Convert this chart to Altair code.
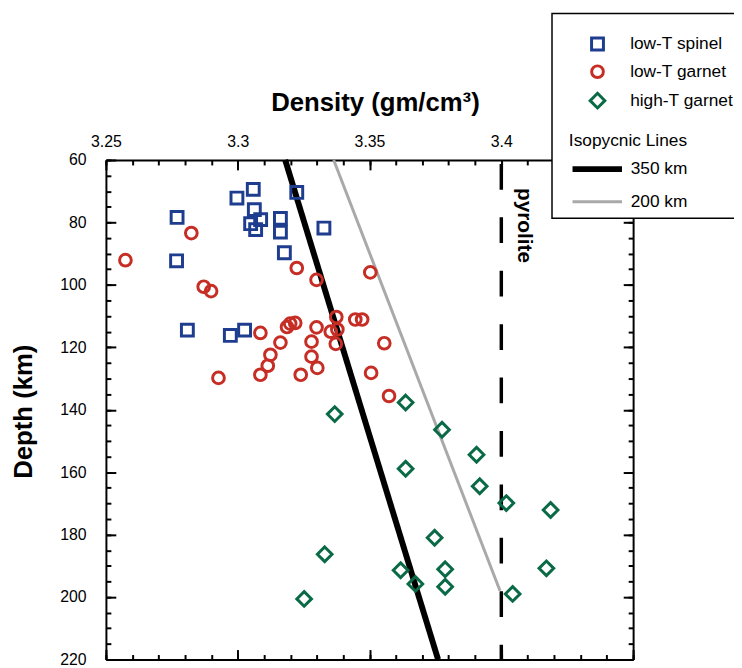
import altair as alt
import pandas as pd

FONT = "Liberation Sans"

# ---------------- data ----------------
groups = ["low-T spinel", "low-T garnet", "high-T garnet"]
group_colors = ["#1f3d8f", "#c62d24", "#0a6a45"]
group_shapes = ["square", "circle", "M0,-1L1,0L0,1L-1,0Z"]
group_sizes = [144, 140, 220]

spinel_density = [3.3059, 3.2997, 3.2770, 3.3063, 3.3049, 3.3087, 3.3068, 3.3162,
                  3.3162, 3.3224, 3.3327, 3.2768, 3.3177, 3.2809, 3.2972, 3.3026]
spinel_depth = [69.4, 72.2, 78.4, 75.9, 80.4, 79.1, 82.3, 78.7,
                83.1, 70.4, 81.8, 92.3, 89.7, 114.5, 116.2, 114.5]

lt_garnet_density = [3.2574, 3.2824, 3.2871, 3.2899, 3.3224, 3.3299, 3.3503,
                     3.3086, 3.3187, 3.3199, 3.3218, 3.3162, 3.3124, 3.3114,
                     3.3086, 3.2927, 3.3239, 3.3299, 3.3280, 3.3280, 3.3302,
                     3.3353, 3.3374, 3.3378, 3.3372, 3.3446, 3.3472, 3.3556,
                     3.3506, 3.3574]
lt_garnet_depth = [92.1, 83.4, 100.6, 102.0, 94.6, 98.4, 96.0,
                   115.4, 113.5, 112.4, 112.2, 118.5, 122.4, 125.9,
                   128.8, 129.8, 128.8, 113.6, 118.2, 123.0, 126.6,
                   115.0, 110.3, 114.3, 118.9, 111.1, 111.1, 118.7,
                   128.2, 135.6]

ht_garnet_density = [3.3637, 3.3368, 3.3775, 3.3906, 3.3637, 3.3918, 3.4019,
                     3.4187, 3.3747, 3.3330, 3.3618, 3.3787, 3.3674, 3.3787,
                     3.4171, 3.4043, 3.3252]
ht_garnet_depth = [137.7, 141.4, 146.4, 154.4, 158.9, 164.5, 169.9,
                   172.1, 181.0, 186.3, 191.4, 191.1, 195.8, 196.7,
                   190.8, 199.0, 200.6]

iso_names = ["350 km", "200 km"]
iso_colors = ["black", "#a9a9a9"]
iso_widths = [6, 3]
iso_350_density = [3.318, 3.376]
iso_350_depth = [60, 220]
iso_200_density = [3.3364, 3.3995]
iso_200_depth = [60, 198]

pyrolite_density = [3.40]
pyrolite_label = ["pyrolite"]
pyrolite_label_depth = [81]

x_domain = [3.25, 3.45]
y_domain = [60, 220]
x_label_values = [3.25, 3.3, 3.35, 3.4]
x_major = [3.25, 3.30, 3.35, 3.40, 3.45]
x_minor = [3.25, 3.26, 3.27, 3.28, 3.29, 3.30, 3.31, 3.32, 3.33, 3.34, 3.35,
           3.36, 3.37, 3.38, 3.39, 3.40, 3.41, 3.42, 3.43, 3.44, 3.45]
y_major = [60, 80, 100, 120, 140, 160, 180, 200, 220]
y_minor = [60, 65, 70, 75, 80, 85, 90, 95, 100, 105, 110, 115, 120, 125, 130,
           135, 140, 145, 150, 155, 160, 165, 170, 175, 180, 185, 190, 195,
           200, 205, 210, 215, 220]

# ---------------- tables ----------------
pts = pd.concat([
    pd.DataFrame({"density": spinel_density, "depth": spinel_depth, "group": groups[0]}),
    pd.DataFrame({"density": lt_garnet_density, "depth": lt_garnet_depth, "group": groups[1]}),
    pd.DataFrame({"density": ht_garnet_density, "depth": ht_garnet_depth, "group": groups[2]}),
], ignore_index=True)

iso = pd.concat([
    pd.DataFrame({"density": iso_350_density, "depth": iso_350_depth, "line": iso_names[0]}),
    pd.DataFrame({"density": iso_200_density, "depth": iso_200_depth, "line": iso_names[1]}),
], ignore_index=True)

pyro = pd.DataFrame({"density": pyrolite_density, "label": pyrolite_label,
                     "depth": pyrolite_label_depth})
frame = pd.DataFrame({"density": x_domain, "depth": y_domain})
box_df = pd.DataFrame({"box": [0]})

W, H = 533, 505
xs = alt.Scale(domain=x_domain, nice=False, zero=False)
ys = alt.Scale(domain=y_domain, nice=False, zero=False, reverse=True)


def tick_axis(orient, offset, values, size, domain=False):
    return alt.Axis(orient=orient, offset=offset, values=values, tickSize=size,
                    tickWidth=2, tickColor="black", labels=False, domain=domain,
                    domainColor="black", domainWidth=2, grid=False, title=None)


axA = alt.Axis(orient="top", values=x_label_values, format="~g", ticks=False, tickSize=0,
               labelPadding=11, labelFont=FONT, labelFontSize=16, labelColor="black",
               labelFlush=False, labelOverlap=False, domain=True, domainColor="black",
               domainWidth=2, grid=False, title="Density (gm/cm³)", titleFont=FONT,
               titleFontSize=26, titleFontWeight="bold", titleColor="black",
               titleX=272, titleY=-50, titleBaseline="alphabetic", titleAlign="center",
               titleAngle=0)
axB = tick_axis("bottom", -H, x_major, 10)
axC = tick_axis("bottom", -H, x_minor, 5)
axD = tick_axis("top", -H, x_major, 10, domain=True)
axE = tick_axis("top", -H, x_minor, 5)

axF = alt.Axis(orient="left", values=y_major, ticks=False, tickSize=0, labelPadding=20,
               labelFont=FONT, labelFontSize=16, labelColor="black", labelFlush=False,
               labelOverlap=False, domain=True, domainColor="black", domainWidth=2,
               grid=False, title="Depth (km)", titleFont=FONT, titleFontSize=26,
               titleFontWeight="bold", titleColor="black", titleX=-75, titleY=254,
               titleAngle=270, titleBaseline="alphabetic", titleAlign="center")
axG = tick_axis("right", -W, y_major, 10)
axH = tick_axis("right", -W, y_minor, 5)
axI = tick_axis("left", -W, y_major, 10, domain=True)
axJ = tick_axis("left", -W, y_minor, 5)

leg_pts = alt.Legend(orient="none", legendX=488, legendY=-126, title=None, padding=0,
                     labelFont=FONT, labelFontSize=17.5, labelColor="black", labelOffset=24,
                     rowPadding=3, symbolStrokeWidth=3)
leg_iso = alt.Legend(orient="none", legendX=468, legendY=-28, title="Isopycnic Lines",
                     titleFont=FONT, titleFontSize=17.5, titleFontWeight="normal",
                     titleColor="black", titlePadding=11, padding=0, labelFont=FONT,
                     labelFontSize=17.5, labelColor="black", labelOffset=45, rowPadding=11,
                     symbolType="M-1,0L9,0", symbolSize=100)

lines = alt.Chart(iso).mark_line(strokeCap="butt").encode(
    x=alt.X("density:Q", scale=xs, axis=axB),
    y=alt.Y("depth:Q", scale=ys, axis=axG),
    stroke=alt.Stroke("line:N", scale=alt.Scale(domain=iso_names, range=iso_colors), legend=leg_iso),
    strokeWidth=alt.StrokeWidth("line:N", scale=alt.Scale(type="ordinal", domain=iso_names, range=iso_widths), legend=leg_iso),
)

rule = alt.Chart(pyro).mark_rule(color="black", strokeWidth=3.5, strokeDash=[26, 28],
                                 strokeDashOffset=50).encode(
    x=alt.X("density:Q", scale=xs, axis=axC),
)

points = alt.Chart(pts).mark_point(filled=False, strokeWidth=3, opacity=1).encode(
    x=alt.X("density:Q", scale=xs, axis=axA),
    y=alt.Y("depth:Q", scale=ys, axis=axF),
    color=alt.Color("group:N", scale=alt.Scale(domain=groups, range=group_colors), legend=leg_pts),
    shape=alt.Shape("group:N", scale=alt.Scale(domain=groups, range=group_shapes), legend=leg_pts),
    size=alt.Size("group:N", scale=alt.Scale(type="ordinal", domain=groups, range=group_sizes), legend=leg_pts),
)

label = alt.Chart(pyro).mark_text(angle=90, font=FONT, fontSize=21, fontWeight="bold",
                                  color="black", align="center", baseline="middle",
                                  dy=-23).encode(
    x=alt.X("density:Q", scale=xs, axis=axD),
    y=alt.Y("depth:Q", scale=ys, axis=axH),
    text="label:N",
)

dummy1 = alt.Chart(frame).mark_point(opacity=0).encode(
    x=alt.X("density:Q", scale=xs, axis=axE),
    y=alt.Y("depth:Q", scale=ys, axis=axI),
)
dummy2 = alt.Chart(frame).mark_point(opacity=0).encode(
    x=alt.X("density:Q", scale=xs, axis=None),
    y=alt.Y("depth:Q", scale=ys, axis=axJ),
)

box = alt.Chart(box_df).mark_rect(fill="white", stroke="black", strokeWidth=1.5).encode(
    x=alt.value(451), x2=alt.value(720), y=alt.value(-148), y2=alt.value(59)
)

chart = alt.layer(lines, rule, points, label, dummy1, dummy2, box).resolve_axis(
    x="independent", y="independent"
).properties(
    width=W, height=H,
    autosize=alt.AutoSizeParams(type="none"),
    padding={"left": 99, "top": 150, "right": 102, "bottom": 10},
    background="white",
).configure_view(stroke="transparent")

chart.save("out.html", embed_options={"renderer": "svg", "actions": False})
